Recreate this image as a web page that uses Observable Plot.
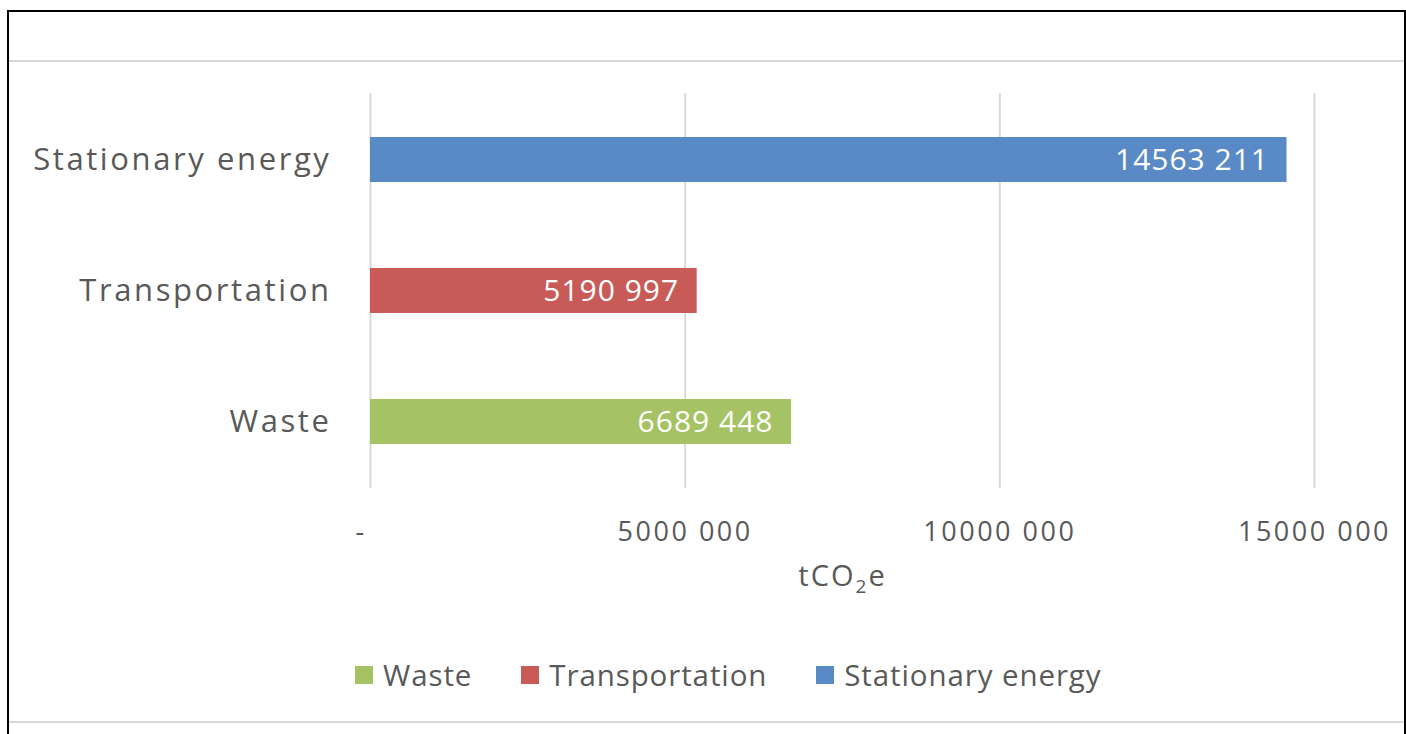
<!DOCTYPE html>
<html>
<head>
<meta charset="utf-8">
<script src="https://cdn.jsdelivr.net/npm/d3@7"></script>
<script src="https://cdn.jsdelivr.net/npm/@observablehq/plot@0.6"></script>
<style>
  html, body { margin: 0; padding: 0; background: #fff; }
  #wrap { position: relative; width: 1406px; height: 734px; overflow: hidden; font-family: "Open Sans", sans-serif; }
  #chart { position: absolute; left: 0; top: 0; }
  #legend { position: absolute; left: 0; top: 654px; width: 1406px; }
  .fr { position: absolute; }
  .lg-swatch { margin-right: 49px !important; letter-spacing: 0.9px; }
  .lg-swatch > svg { margin-right: 10px !important; }
  #chart g[aria-label="y-axis tick label"] text { letter-spacing: 2.6px; }
  #chart g[aria-label="x-axis tick label"] text { letter-spacing: 2.5px; }
  #chart g.barlabel text { letter-spacing: 1px; }
  #chart g.axistitle text { letter-spacing: 2px; }
</style>
</head>
<body>
<div id="wrap">
  <div id="chart"></div>
  <div id="legend"></div>
  <div class="fr" style="left:7px;top:10px;width:1399px;height:2px;background:#000"></div>
  <div class="fr" style="left:7px;top:10px;width:2px;height:724px;background:#000"></div>
  <div class="fr" style="left:1404px;top:10px;width:2px;height:724px;background:#000"></div>
  <div class="fr" style="left:9px;top:60px;width:1395px;height:2px;background:#D9D9D9"></div>
  <div class="fr" style="left:9px;top:721px;width:1395px;height:2px;background:#D9D9D9"></div>
</div>
<script>
// ---- data ----
const categories = ["Stationary energy", "Transportation", "Waste"];
const values = [14563211, 5190997, 6689448];
const barLabels = ["14563 211", "5190 997", "6689 448"];
const legendOrder = ["Waste", "Transportation", "Stationary energy"];
const legendColors = ["#A5C364", "#C85B58", "#5A8AC5"];
const tickValues = [0, 5000000, 10000000, 15000000];
const tickLabels = ["-\u00a0\u00a0", "5000 000", "10000 000", "15000 000"];
const axisTitle = "tCO₂e";

const data = categories.map((c, i) => ({category: c, value: values[i], label: barLabels[i]}));
const textColor = "#595959";

const chart = Plot.plot({
  width: 1406,
  height: 620,
  marginLeft: 370,
  marginRight: 92,
  marginTop: 93,
  marginBottom: 132,
  style: {fontFamily: "'Open Sans', sans-serif", fontSize: "28px", color: textColor, background: "transparent", overflow: "visible"},
  x: {domain: [0, 15000000]},
  y: {domain: categories, paddingInner: 0.66, paddingOuter: 0.33},
  color: {domain: legendOrder, range: legendColors},
  marks: [
    Plot.gridX(tickValues, {stroke: "#D9D9D9", strokeOpacity: 1, strokeWidth: 2}),
    Plot.axisX(tickValues, {tickSize: 0, tickPadding: 33, fontSize: 27, fill: textColor,
      tickFormat: d => tickLabels[tickValues.indexOf(d)], label: null}),
    Plot.axisY({tickSize: 0, tickPadding: 39, fontSize: 31, fill: textColor, label: null}),
    Plot.barX(data, {x: "value", y: "category", fill: "category"}),
    Plot.text(data, {x: "value", y: "category", text: "label", textAnchor: "end", dx: -18, fill: "white", fontSize: 30, className: "barlabel"}),
    Plot.text([axisTitle], {frameAnchor: "bottom", dy: 97, fill: textColor, fontSize: 29, className: "axistitle"})
  ]
});
document.getElementById("chart").appendChild(chart);

// render the "₂" of the axis title as a true subscript
d3.select(chart).selectAll("g.axistitle text").each(function () {
  const t = this.textContent;
  const i = t.indexOf("₂");
  if (i < 0) return;
  const sel = d3.select(this);
  sel.text(null);
  sel.append("tspan").text(t.slice(0, i));
  sel.append("tspan").attr("font-size", 19).attr("dy", 7).text("2");
  sel.append("tspan").attr("dy", -7).text(t.slice(i + 1));
});

const legend = Plot.legend({
  color: {domain: legendOrder, range: legendColors},
  legend: "swatches",
  swatchSize: 18,
  className: "lg",
  marginLeft: 355,
  style: {fontFamily: "'Open Sans', sans-serif", fontSize: "29.5px", color: textColor}
});
document.getElementById("legend").appendChild(legend);
</script>
</body>
</html>
